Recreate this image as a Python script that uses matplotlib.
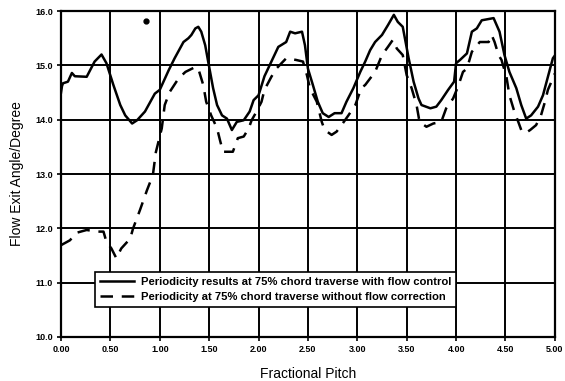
import matplotlib.pyplot as plt

# flow control case (solid)
pitch_ctrl = [0.00, 0.01, 0.02, 0.07, 0.11, 0.14, 0.26, 0.34, 0.41, 0.46, 0.53, 0.60, 0.65,
              0.72, 0.77, 0.85, 0.95, 1.00, 1.09, 1.15, 1.24, 1.29, 1.32, 1.36, 1.39, 1.42,
              1.46, 1.49, 1.54, 1.58, 1.63, 1.68, 1.73, 1.78, 1.85, 1.91, 1.95, 2.00, 2.06,
              2.13, 2.20, 2.28, 2.32, 2.37, 2.44, 2.47, 2.50, 2.55, 2.60, 2.65, 2.71, 2.77,
              2.84, 2.89, 2.96, 3.03, 3.08, 3.13, 3.18, 3.25, 3.31, 3.37, 3.41, 3.46, 3.52,
              3.57, 3.62, 3.65, 3.74, 3.80, 3.85, 3.92, 3.98, 4.00, 4.04, 4.11, 4.16, 4.21,
              4.26, 4.38, 4.44, 4.49, 4.54, 4.61, 4.66, 4.71, 4.76, 4.83, 4.88, 4.93, 4.98,
              5.00]
angle_ctrl = [14.50, 14.62, 14.67, 14.70, 14.86, 14.80, 14.79, 15.07, 15.20, 15.04, 14.64,
              14.27, 14.08, 13.93, 13.99, 14.15, 14.48, 14.55, 14.91, 15.13, 15.43, 15.50,
              15.56, 15.68, 15.71, 15.62, 15.37, 15.07, 14.58, 14.27, 14.08, 14.02, 13.81,
              13.96, 13.99, 14.15, 14.36, 14.45, 14.80, 15.07, 15.34, 15.43, 15.62, 15.59,
              15.62, 15.37, 14.94, 14.64, 14.33, 14.12, 14.05, 14.12, 14.12, 14.33, 14.58,
              14.88, 15.07, 15.28, 15.43, 15.56, 15.74, 15.93, 15.80, 15.71, 15.13, 14.70,
              14.39, 14.27, 14.21, 14.24, 14.36, 14.55, 14.70, 15.04, 15.10, 15.22, 15.62,
              15.68, 15.83, 15.87, 15.62, 15.19, 14.88, 14.58, 14.27, 14.02, 14.08, 14.24,
              14.45, 14.79, 15.13, 15.18]

# without flow correction (dashed)
pitch_nocorr = [0.00, 0.09, 0.16, 0.26, 0.36, 0.43, 0.46, 0.51, 0.56, 0.61, 0.70, 0.73, 0.80,
                0.87, 0.93, 0.96, 1.02, 1.05, 1.10, 1.19, 1.26, 1.36, 1.39, 1.44, 1.47, 1.52,
                1.58, 1.61, 1.64, 1.74, 1.79, 1.85, 1.90, 1.93, 1.98, 2.03, 2.06, 2.13, 2.18,
                2.28, 2.38, 2.45, 2.49, 2.52, 2.59, 2.64, 2.67, 2.74, 2.79, 2.84, 2.91, 2.98,
                3.04, 3.08, 3.18, 3.25, 3.31, 3.36, 3.40, 3.46, 3.50, 3.55, 3.60, 3.63, 3.70,
                3.77, 3.85, 3.90, 3.97, 4.02, 4.07, 4.11, 4.16, 4.24, 4.33, 4.36, 4.39, 4.43,
                4.46, 4.51, 4.54, 4.59, 4.63, 4.66, 4.70, 4.75, 4.81, 4.86, 4.90, 4.93, 4.98,
                5.00]
angle_nocorr = [11.69, 11.78, 11.92, 11.97, 11.94, 11.94, 11.75, 11.63, 11.45, 11.63, 11.81,
                12.00, 12.34, 12.70, 12.98, 13.40, 13.84, 14.27, 14.51, 14.76, 14.88, 14.97,
                14.94, 14.64, 14.33, 14.08, 13.84, 13.62, 13.41, 13.41, 13.66, 13.69, 13.84,
                13.99, 14.15, 14.33, 14.55, 14.79, 14.94, 15.13, 15.10, 15.07, 14.82, 14.58,
                14.33, 13.96, 13.81, 13.72, 13.78, 13.90, 14.08, 14.27, 14.58, 14.64, 14.88,
                15.19, 15.34, 15.47, 15.31, 15.19, 14.82, 14.58, 14.27, 13.96, 13.87, 13.93,
                13.96, 14.21, 14.39, 14.61, 14.88, 14.94, 15.25, 15.43, 15.43, 15.56, 15.43,
                15.19, 15.10, 14.79, 14.45, 14.15, 13.96, 13.81, 13.75, 13.81, 13.90, 14.08,
                14.33, 14.55, 14.76, 14.85]

x_ticks = [0.0, 0.5, 1.0, 1.5, 2.0, 2.5, 3.0, 3.5, 4.0, 4.5, 5.0]
y_ticks = [10.0, 11.0, 12.0, 13.0, 14.0, 15.0, 16.0]

fig = plt.figure(figsize=(5.65, 3.81), dpi=100)
ax = fig.add_axes([0.108, 0.1155, 0.874, 0.8555])

ax.plot(pitch_ctrl, angle_ctrl, color='black', lw=1.8,
        label="Periodicity results at 75% chord traverse with flow control")
ax.plot(pitch_nocorr, angle_nocorr, color='black', lw=1.8, dashes=(5, 3.5),
        label="Periodicity at 75% chord traverse without flow correction")

# scanning speck in the original
ax.plot([0.86], [15.82], marker='o', ms=3.5, color='black')

ax.set_xlim(0, 5)
ax.set_ylim(10, 16)
ax.set_xticks(x_ticks)
ax.set_yticks(y_ticks)
ax.set_xticklabels([f"{v:.2f}" for v in x_ticks], fontsize=6.5, fontweight='bold',
                   family='Liberation Sans')
ax.set_yticklabels([f"{v:.1f}" for v in y_ticks], fontsize=6.5, fontweight='bold',
                   family='Liberation Sans')
ax.tick_params(direction='out', length=3, width=1.2, pad=3)
ax.grid(True, color='black', lw=1.4)
for s in ax.spines.values():
    s.set_linewidth(1.6)

ax.set_xlabel("Fractional Pitch", fontsize=10, family='Liberation Sans', labelpad=9)
ax.set_ylabel("Flow Exit Angle/Degree", fontsize=10, family='Liberation Sans', labelpad=8)

leg = ax.legend(loc='lower left', bbox_to_anchor=(0.058, 0.075), fancybox=False,
                framealpha=1, edgecolor='black', handlelength=3.0, borderpad=0.45,
                labelspacing=0.45, handletextpad=0.6,
                prop={'family': 'Liberation Sans', 'weight': 'bold', 'size': 8.1})
leg.get_frame().set_linewidth(1.2)

fig.savefig("out.png", dpi=100)
